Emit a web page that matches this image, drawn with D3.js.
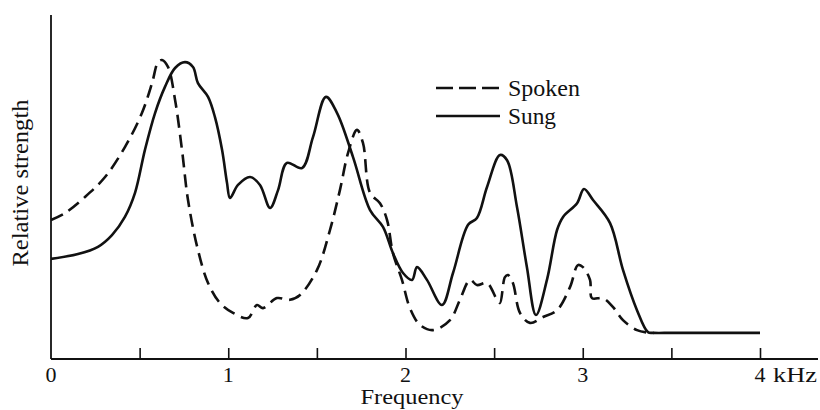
<!DOCTYPE html>
<html>
<head>
<meta charset="utf-8">
<script src="https://cdn.jsdelivr.net/npm/d3@7"></script>
<style>
  html, body { margin: 0; padding: 0; background: #fff; }
  svg { display: block; }
  text { font-family: "Liberation Serif", "Times New Roman", serif; fill: #111; }
</style>
</head>
<body>
<svg id="chart" width="820" height="410"></svg>
<script>
// Frequency (kHz) and relative strength of the sung voice
const sungFreq = [0.000, 0.152, 0.265, 0.344, 0.417, 0.474, 0.530, 0.587, 0.643, 0.700, 0.756, 0.801, 0.829, 0.886, 0.925, 0.965, 0.993, 1.010, 1.055, 1.123, 1.179, 1.236, 1.281, 1.331, 1.416, 1.478, 1.551, 1.614, 1.704, 1.800, 1.873, 1.929, 1.986, 2.037, 2.065, 2.121, 2.206, 2.268, 2.353, 2.403, 2.460, 2.533, 2.573, 2.629, 2.685, 2.736, 2.798, 2.855, 2.889, 2.968, 3.007, 3.058, 3.154, 3.227, 3.306, 3.368, 3.400, 3.500, 3.700, 3.900, 4.000];
const sungLevel = [29.1, 30.5, 32.6, 36.0, 41.3, 48.3, 60.8, 71.5, 79.1, 84.6, 86.3, 84.9, 80.2, 76.2, 70.3, 60.8, 51.2, 46.8, 50.6, 52.9, 50.6, 43.9, 49.1, 57.0, 55.5, 64.5, 76.2, 71.5, 58.7, 43.3, 38.4, 30.8, 25.0, 23.0, 26.7, 23.0, 15.7, 25.0, 39.0, 41.0, 50.0, 59.3, 57.8, 44.2, 26.7, 12.8, 23.0, 37.5, 41.3, 45.3, 49.4, 46.2, 39.5, 25.9, 14.2, 7.8, 7.6, 7.6, 7.6, 7.6, 7.6];

// Frequency (kHz) and relative strength of the spoken voice
const spokenFreq = [0.000, 0.079, 0.192, 0.305, 0.417, 0.513, 0.570, 0.604, 0.626, 0.660, 0.700, 0.739, 0.773, 0.829, 0.886, 0.953, 1.027, 1.111, 1.162, 1.196, 1.275, 1.348, 1.405, 1.501, 1.574, 1.630, 1.676, 1.726, 1.760, 1.800, 1.856, 1.896, 1.929, 1.980, 2.025, 2.082, 2.155, 2.251, 2.307, 2.364, 2.403, 2.460, 2.516, 2.533, 2.561, 2.578, 2.606, 2.646, 2.702, 2.776, 2.855, 2.928, 2.973, 3.001, 3.041, 3.052, 3.114, 3.171, 3.227, 3.306, 3.363, 3.400];
const spokenLevel = [40.4, 42.4, 47.1, 52.9, 61.6, 71.5, 80.2, 86.3, 86.9, 84.9, 75.3, 60.8, 46.2, 31.7, 22.1, 16.3, 13.4, 11.9, 15.7, 14.8, 17.7, 17.2, 18.6, 25.9, 37.5, 49.1, 59.9, 66.6, 62.8, 48.3, 45.3, 40.4, 30.8, 23.0, 14.8, 9.9, 8.4, 11.3, 17.2, 23.0, 21.5, 22.1, 17.2, 16.3, 23.8, 24.4, 22.1, 13.4, 10.5, 12.2, 14.2, 20.9, 27.3, 26.7, 23.0, 17.7, 17.7, 15.1, 11.3, 8.4, 7.7, 7.6];

// Axis ticks
const tickValues = [0.5, 1, 1.5, 2, 2.5, 3, 3.5, 4];
const tickLabels = ["0", "1", "2", "3", "4"];
const labelValues = [0, 1, 2, 3, 4];
const seriesNames = ["Spoken", "Sung"];

const svg = d3.select("#chart");
const plotLeft = 51, plotBottom = 359, plotTop = 15, axisEnd = 818;

const x = d3.scaleLinear().domain([0, 4]).range([plotLeft, 760]);
const y = d3.scaleLinear().domain([0, 100]).range([plotBottom, plotTop]);

// Axes
const axisG = svg.append("g").attr("transform", `translate(0,${plotBottom})`);
axisG.call(d3.axisBottom(x).tickValues(tickValues).tickSizeInner(-11).tickSizeOuter(0).tickFormat(""));
axisG.select(".domain").remove();
axisG.selectAll(".tick line").attr("stroke", "#111").attr("stroke-width", 1.6);
axisG.append("line").attr("x1", plotLeft).attr("x2", axisEnd).attr("y1", 0).attr("y2", 0)
  .attr("stroke", "#111").attr("stroke-width", 1.8);

svg.append("line").attr("x1", plotLeft).attr("x2", plotLeft).attr("y1", plotTop).attr("y2", plotBottom)
  .attr("stroke", "#111").attr("stroke-width", 1.8);

svg.append("g").selectAll("text").data(labelValues).join("text")
  .attr("x", d => x(d)).attr("y", 382)
  .attr("text-anchor", "middle").attr("font-size", 22)
  .text((d, i) => tickLabels[i]);

svg.append("text").attr("x", x(4) + 13).attr("y", 382).attr("font-size", 22)
  .attr("textLength", 44).attr("lengthAdjust", "spacingAndGlyphs").text("kHz");

svg.append("text").attr("x", 412).attr("y", 404).attr("text-anchor", "middle")
  .attr("font-size", 21).attr("textLength", 103).attr("lengthAdjust", "spacingAndGlyphs")
  .text("Frequency");

svg.append("text").attr("transform", "translate(28,183) rotate(-90)")
  .attr("text-anchor", "middle").attr("font-size", 23)
  .attr("textLength", 167).attr("lengthAdjust", "spacingAndGlyphs")
  .text("Relative strength");

// Curves
const line = d3.line().curve(d3.curveCatmullRom.alpha(0.5))
  .x(d => x(d[0])).y(d => y(d[1]));

const spoken = spokenFreq.map((f, i) => [f, spokenLevel[i]]);
const sung = sungFreq.map((f, i) => [f, sungLevel[i]]);

svg.append("path").attr("d", line(spoken)).attr("fill", "none")
  .attr("stroke", "#111").attr("stroke-width", 2.6).attr("stroke-dasharray", "13,7");
svg.append("path").attr("d", line(sung)).attr("fill", "none")
  .attr("stroke", "#111").attr("stroke-width", 2.6).attr("stroke-linejoin", "round");

// Legend
const legend = svg.append("g");
const legendRows = [{ name: seriesNames[0], dash: "17,6", y: 88, w: 72 }, { name: seriesNames[1], dash: null, y: 116, w: 48 }];
legendRows.forEach(r => {
  legend.append("line").attr("x1", 436).attr("x2", 500).attr("y1", r.y).attr("y2", r.y)
    .attr("stroke", "#111").attr("stroke-width", 2.6)
    .attr("stroke-dasharray", r.dash);
  legend.append("text").attr("x", 508).attr("y", r.y + 8).attr("font-size", 24)
    .attr("textLength", r.w).attr("lengthAdjust", "spacingAndGlyphs").text(r.name);
});
</script>
</body>
</html>
